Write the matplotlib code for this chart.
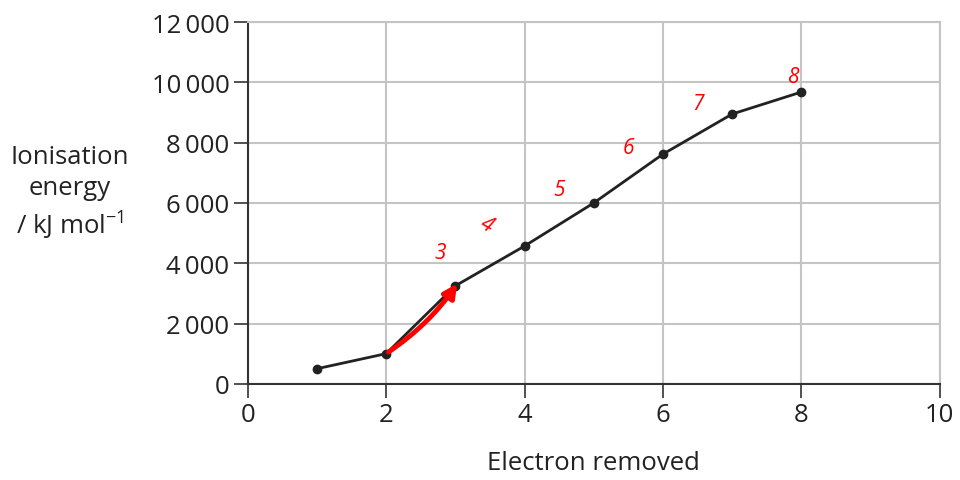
import matplotlib.pyplot as plt
from matplotlib.ticker import FixedLocator

plt.rcParams['font.family'] = ['Open Sans', 'DejaVu Sans']

electron = [1, 2, 3, 4, 5, 6, 7, 8]
energy = [500, 1000, 3250, 4570, 6000, 7620, 8950, 9680]

xticks = [0, 2, 4, 6, 8, 10]
yticks = [0, 2000, 4000, 6000, 8000, 10000, 12000]
ytick_labels = ['0', '2\u2009000', '4\u2009000', '6\u2009000', '8\u2009000',
                '10\u2009000', '12\u2009000']

# handwritten red notes (label, x, y in data units)
notes = ['3', '4', '5', '6', '7', '8']
note_x = [2.78, 3.45, 4.5, 5.5, 6.5, 7.88]
note_y = [4350, 5300, 6450, 7850, 9300, 10200]
note_rot = [0, -30, 0, 0, 0, 0]

fig = plt.figure(figsize=(9.6, 4.81), dpi=100)
ax = fig.add_axes([0.258, 0.2, 0.721, 0.752])

ax.plot(electron, energy, color='#222222', linewidth=2, marker='o',
        markersize=6, zorder=3)

ax.set_xlim(0, 10)
ax.set_ylim(0, 12000)
ax.xaxis.set_major_locator(FixedLocator(xticks))
ax.yaxis.set_major_locator(FixedLocator(yticks))
ax.set_yticklabels(ytick_labels)
ax.grid(True, color='#c4c4c4', linewidth=1.5)
ax.set_axisbelow(True)

for s in ['top', 'right']:
    ax.spines[s].set_color('#c4c4c4')
    ax.spines[s].set_linewidth(1.5)
for s in ['left', 'bottom']:
    ax.spines[s].set_color('#333333')
    ax.spines[s].set_linewidth(1.5)

ax.tick_params(axis='both', colors='#333333', labelcolor='#222222',
               labelsize=18.5, length=10, width=1.2, direction='out')
ax.tick_params(axis='x', pad=3)
ax.tick_params(axis='y', pad=3)

ax.set_xlabel('Electron removed', fontsize=18.5, color='#222222', labelpad=17)
fig.text(0.073, 0.598, 'Ionisation\nenergy\n/ kJ mol$^{\\mathregular{-1}}$',
         fontsize=18.5, color='#222222', ha='center', va='center',
         linespacing=1.3)

# red pen marks
ax.annotate('', xy=(3.05, 3400), xytext=(2.0, 1000),
            arrowprops=dict(arrowstyle='-|>', color='red', lw=3.5,
                            connectionstyle='arc3,rad=0.1', mutation_scale=20))
for t, x, y, r in zip(notes, note_x, note_y, note_rot):
    ax.text(x, y, t, color='red', fontsize=15, rotation=r, ha='center',
            va='center', fontstyle='italic')

fig.savefig('out.png', dpi=100)
